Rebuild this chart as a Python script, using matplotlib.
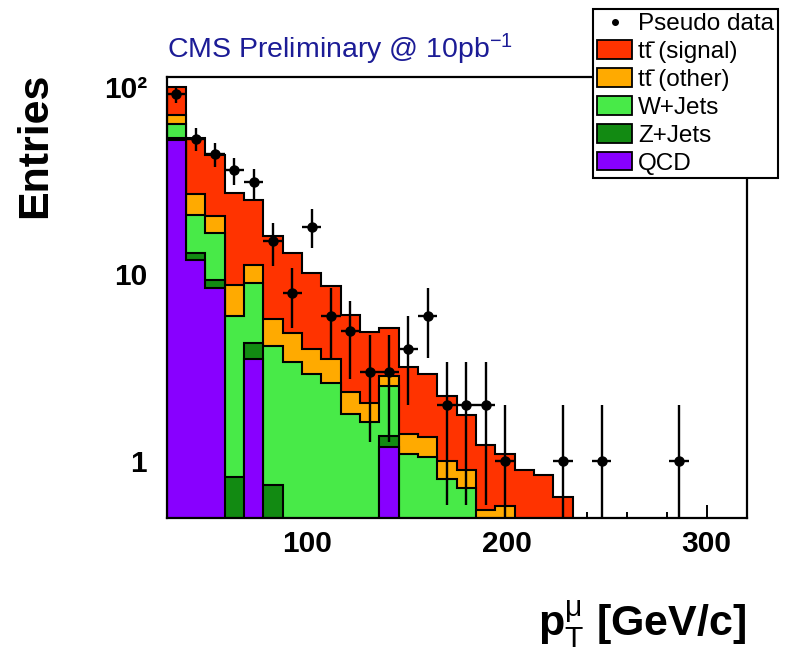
import numpy as np
import matplotlib
matplotlib.use('Agg')
import matplotlib.pyplot as plt
from matplotlib.patches import Patch
from matplotlib.lines import Line2D
from matplotlib.ticker import FixedLocator, FixedFormatter, LogLocator, NullFormatter, MultipleLocator

plt.rcParams['font.family'] = ['Liberation Sans', 'DejaVu Sans']
plt.rcParams['mathtext.fontset'] = 'custom'
plt.rcParams['mathtext.rm'] = 'Liberation Sans'
plt.rcParams['mathtext.bf'] = 'Liberation Sans:bold'
plt.rcParams['mathtext.it'] = 'Liberation Sans:italic'

# muon pT histogram, 30 bins between 30 and 320 GeV/c
edges = np.linspace(30, 320, 31)

pseudo_data = [92, 53, 44, 36, 31, 15, 8, 18, 6, 5, 3, 3, 4, 6, 2, 2, 2, 1, 0, 0,
               1, 0, 1, 0, 0, 0, 1, 0, 0, 0]

qcd = [52.5, 12.0, 8.5, 0, 3.55, 0, 0, 0, 0, 0, 0, 1.19, 0, 0, 0, 0, 0, 0, 0, 0,
       0, 0, 0, 0, 0, 0, 0, 0, 0, 0]
zjets = [1.3, 1.0, 0.8, 0.83, 0.73, 0.75, 0, 0, 0, 0, 0, 0.185, 0, 0, 0, 0, 0, 0, 0, 0,
         0, 0, 0, 0, 0, 0, 0, 0, 0, 0]
wjets = [10.1, 7.8, 7.3, 5.15, 4.72, 3.39, 3.40, 2.93, 2.64, 1.79, 1.62, 1.145, 1.10, 1.055,
         0.81, 0.72, 0.30, 0.30, 0, 0, 0, 0, 0, 0, 0, 0, 0, 0, 0, 0]
tt_other = [7.4, 6.0, 3.8, 2.82, 2.26, 1.6, 1.48, 1.05, 0.88, 0.57, 0.43, 0.33, 0.30, 0.295,
            0.20, 0.176, 0.25, 0.275, 0, 0, 0, 0, 0, 0, 0, 0, 0, 0, 0, 0]
tt_signal = [29.7, 27.0, 22.9, 18.3, 13.74, 10.36, 8.12, 6.22, 5.12, 3.74, 2.89, 2.34, 1.78,
             1.58, 1.23, 0.864, 0.67, 0.515, 0.896, 0.85, 0.646, 0, 0, 0, 0, 0, 0, 0, 0, 0]

labels = ['Pseudo data', 'tt\u0304 (signal)', 'tt\u0304 (other)', 'W+Jets', 'Z+Jets', 'QCD']
colors = {'sig': '#ff3300', 'oth': '#ffaa00', 'w': '#48ea48', 'z': '#128a12', 'qcd': '#8800ff'}

fig = plt.figure(figsize=(7.96, 6.54), dpi=100)
ax = fig.add_axes([0.2094, 0.2084, 0.7286, 0.6743])

# stacked histograms drawn from the top of the stack downwards
c_qcd = np.array(qcd)
c_z = c_qcd + np.array(zjets)
c_w = c_z + np.array(wjets)
c_oth = c_w + np.array(tt_other)
c_sig = c_oth + np.array(tt_signal)

for cum, key in [(c_sig, 'sig'), (c_oth, 'oth'), (c_w, 'w'), (c_z, 'z'), (c_qcd, 'qcd')]:
    ax.stairs(cum, edges, baseline=1e-3, fill=True, facecolor=colors[key],
              edgecolor='black', linewidth=1.5, zorder=2)

# pseudo data with poisson errors
data = np.array(pseudo_data, dtype=float)
centers = 0.5 * (edges[:-1] + edges[1:])
half = 0.5 * (edges[1] - edges[0])
m = data > 0
ax.errorbar(centers[m], data[m], yerr=np.sqrt(data[m]), xerr=half, fmt='o',
            color='black', ms=6.5, elinewidth=1.7, capsize=0, zorder=4)

ax.set_yscale('log', nonpositive='clip')
ax.set_xlim(30, 320)
ax.set_ylim(0.5, 114)

ax.xaxis.set_major_locator(FixedLocator([100, 200, 300]))
ax.xaxis.set_minor_locator(MultipleLocator(20))
ax.yaxis.set_major_locator(FixedLocator([1, 10, 100]))
ax.yaxis.set_major_formatter(FixedFormatter(['1', '10', '10\u00b2']))
ax.yaxis.set_minor_locator(LogLocator(base=10, subs=np.arange(2, 10)))
ax.yaxis.set_minor_formatter(NullFormatter())

ax.tick_params(axis='both', which='both', direction='in', top=False, right=False, width=1.4)
ax.tick_params(axis='x', which='major', length=9.5, pad=9, labelsize=21.5)
ax.tick_params(axis='x', which='minor', length=4.5)
ax.tick_params(axis='y', which='major', length=11.5, pad=14, labelsize=21.5)
ax.tick_params(axis='y', which='minor', length=6)
for lab in ax.get_xticklabels() + ax.get_yticklabels():
    lab.set_fontweight('bold')
for sp in ax.spines.values():
    sp.set_linewidth(1.6)

fig.text(166.7 / 796, 1 - 58.3 / 654, r'CMS Preliminary @ 10pb$^{-1}$', ha='left',
         va='baseline', fontsize=20.5, color='#1c1c96')
fig.text(35 / 796, 1 - 73 / 654, 'Entries', rotation=90, ha='center', va='top',
         fontsize=31, fontweight='bold')
fig.text(746.7 / 796, 1 - 637 / 654, r'$\mathbf{p}_{\mathrm{T}}^{\mathrm{\mu}}$ [GeV/c]',
         ha='right', va='baseline', fontsize=31, fontweight='bold')

handles = [Line2D([], [], marker='o', ls='none', color='black', ms=4)]
for key in ['sig', 'oth', 'w', 'z', 'qcd']:
    handles.append(Patch(facecolor=colors[key], edgecolor='black', linewidth=1.3))
leg = fig.legend(handles, labels, loc='upper left', bbox_to_anchor=(593.3 / 796, 1 - 9 / 654),
                 fontsize=17.5, frameon=True, fancybox=False, edgecolor='black', framealpha=1,
                 borderpad=0.15, labelspacing=0.21, handlelength=1.45, handleheight=0.8,
                 handletextpad=0.25, borderaxespad=0)
leg.get_frame().set_linewidth(1.5)

fig.savefig('out.png', dpi=100)
